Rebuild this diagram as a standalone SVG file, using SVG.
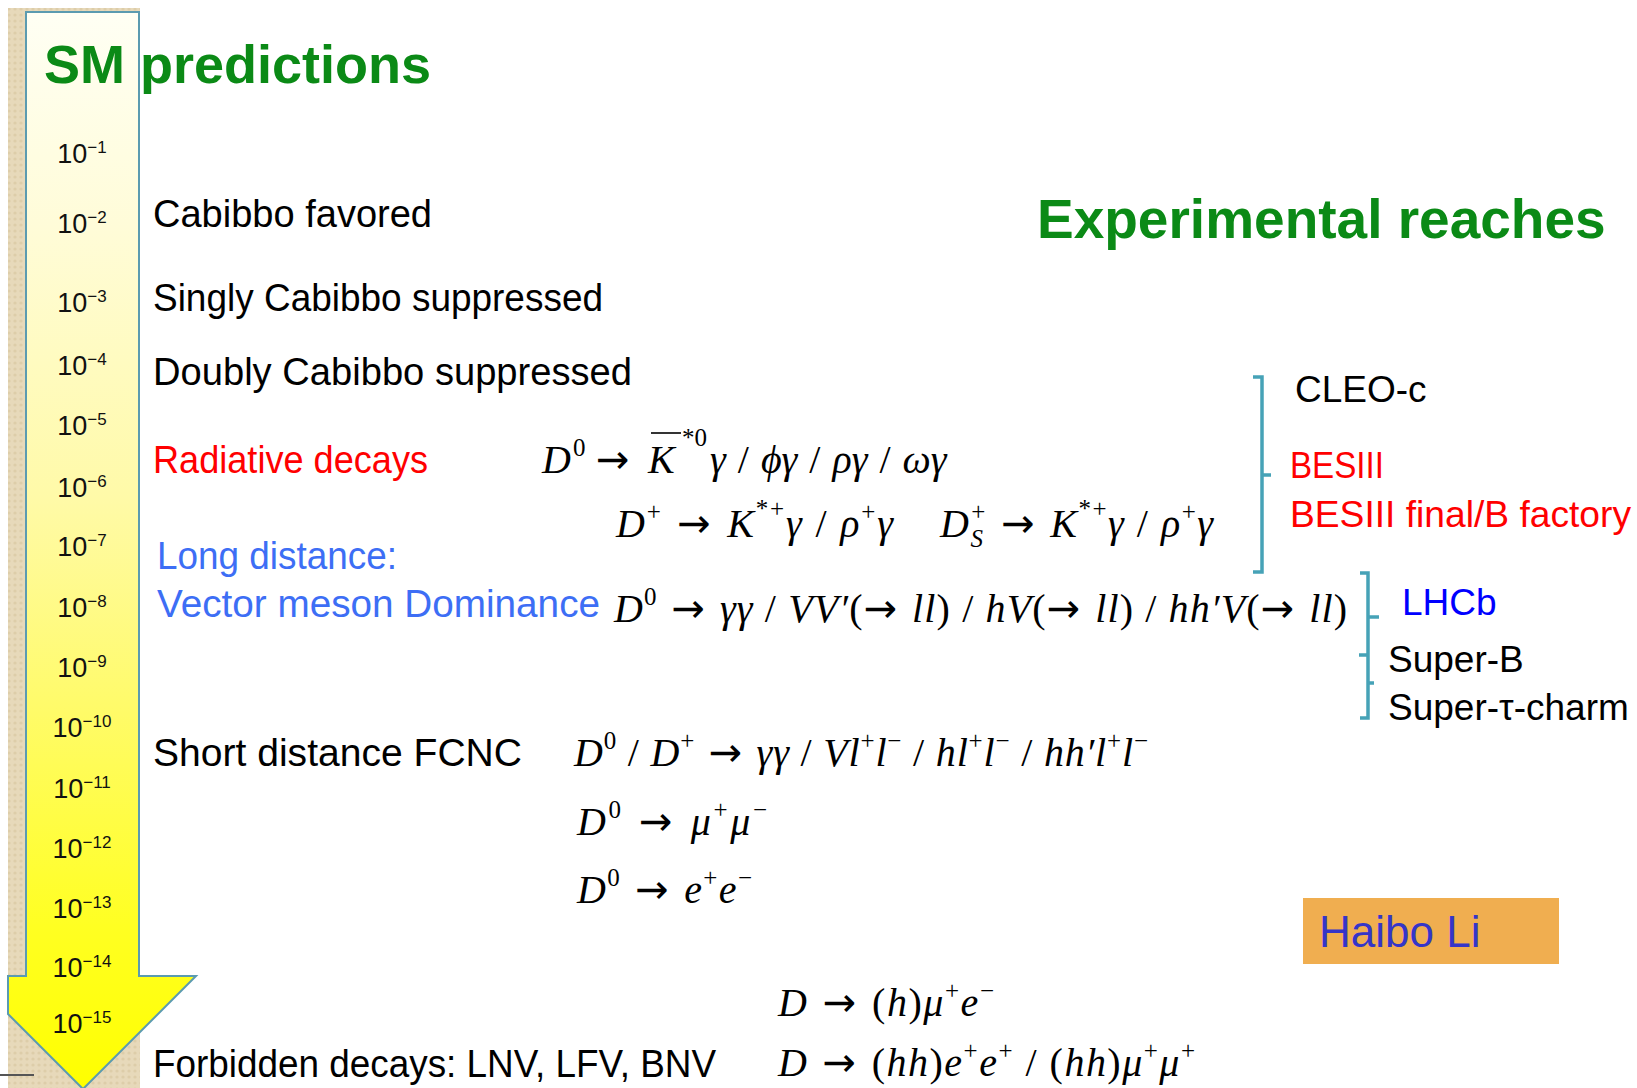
<svg xmlns="http://www.w3.org/2000/svg" width="1637" height="1088" viewBox="0 0 1637 1088">
<defs>
<linearGradient id="yel" x1="0" y1="12" x2="0" y2="1088" gradientUnits="userSpaceOnUse">
<stop offset="0" stop-color="#fffff4"/>
<stop offset="0.2" stop-color="#fffcd8"/>
<stop offset="0.45" stop-color="#fffaa8"/>
<stop offset="0.65" stop-color="#fffb68"/>
<stop offset="0.85" stop-color="#ffff22"/>
<stop offset="1" stop-color="#ffff00"/>
</linearGradient>
<pattern id="tex" width="6" height="6" patternUnits="userSpaceOnUse"><rect width="6" height="6" fill="#e7d9ba"/><circle cx="3" cy="3" r="1.6" fill="#ddcda9"/></pattern>
<style>
.sans{font-family:"Liberation Sans",Arial,sans-serif}
.lbl{font-size:38px;fill:#000}
.h{font-weight:bold;font-size:55px;fill:#0b8a16}
.red{fill:#ff0000}
.blu{fill:#3d6ef5}
.lhcb{fill:#0000ff}
.exp{font-size:37px}
.m{font-family:"Liberation Serif","Times New Roman",serif;font-style:italic;font-size:40px;fill:#000}
.u{font-style:normal}
.s{font-size:25px}
.ar{font-family:"DejaVu Sans",sans-serif;font-style:normal;font-size:40px}
.tk{font-size:27px;text-anchor:middle;fill:#111}
.tke{font-size:17px}
.br{fill:none;stroke:#46a2b7;stroke-width:3.5}
</style>
</defs>
<rect width="1637" height="1088" fill="#ffffff"/>
<g id="scale-arrow">
<rect x="8" y="8" width="132" height="1080" fill="url(#tex)"/>
<line x1="0" y1="1075" x2="34" y2="1075" stroke="#555" stroke-width="2"/>
<polygon points="26,12 139,12 139,976 196,976 83,1089 8,1014 8,976 26,976" fill="url(#yel)" stroke="#5b9bb0" stroke-width="2"/>
</g>
<g id="ticks" class="sans">
<text class="tk" x="82" y="163">10<tspan class="tke" dy="-10">−1</tspan></text>
<text class="tk" x="82" y="233">10<tspan class="tke" dy="-10">−2</tspan></text>
<text class="tk" x="82" y="312">10<tspan class="tke" dy="-10">−3</tspan></text>
<text class="tk" x="82" y="375">10<tspan class="tke" dy="-10">−4</tspan></text>
<text class="tk" x="82" y="435">10<tspan class="tke" dy="-10">−5</tspan></text>
<text class="tk" x="82" y="497">10<tspan class="tke" dy="-10">−6</tspan></text>
<text class="tk" x="82" y="556">10<tspan class="tke" dy="-10">−7</tspan></text>
<text class="tk" x="82" y="617">10<tspan class="tke" dy="-10">−8</tspan></text>
<text class="tk" x="82" y="677">10<tspan class="tke" dy="-10">−9</tspan></text>
<text class="tk" x="82" y="737">10<tspan class="tke" dy="-10">−10</tspan></text>
<text class="tk" x="82" y="798">10<tspan class="tke" dy="-10">−11</tspan></text>
<text class="tk" x="82" y="858">10<tspan class="tke" dy="-10">−12</tspan></text>
<text class="tk" x="82" y="918">10<tspan class="tke" dy="-10">−13</tspan></text>
<text class="tk" x="82" y="977">10<tspan class="tke" dy="-10">−14</tspan></text>
<text class="tk" x="82" y="1033">10<tspan class="tke" dy="-10">−15</tspan></text>
</g>
<g id="title-sm"><text class="sans h" x="44" y="83" font-size="54" style="font-size:54px">SM predictions</text></g>
<g id="title-exp"><text class="sans h" x="1037" y="238">Experimental reaches</text></g>
<g id="categories" class="sans lbl">
<text x="153" y="227" textLength="279" lengthAdjust="spacingAndGlyphs">Cabibbo favored</text>
<text x="153" y="311" textLength="450" lengthAdjust="spacingAndGlyphs">Singly Cabibbo suppressed</text>
<text x="153" y="385" textLength="479" lengthAdjust="spacingAndGlyphs">Doubly Cabibbo suppressed</text>
<text class="red" x="153" y="473" textLength="275" lengthAdjust="spacingAndGlyphs">Radiative decays</text>
<text class="blu" x="157" y="569" textLength="240" lengthAdjust="spacingAndGlyphs">Long distance:</text>
<text class="blu" x="157" y="617" textLength="443" lengthAdjust="spacingAndGlyphs">Vector meson Dominance</text>
<text x="153" y="766" textLength="369" lengthAdjust="spacingAndGlyphs">Short distance FCNC</text>
<text x="153" y="1077" textLength="563" lengthAdjust="spacingAndGlyphs">Forbidden decays: LNV, LFV, BNV</text>
</g>
<g id="formulas">
<text class="m"><tspan x="542" y="473">D</tspan><tspan class="u s" x="573" y="456">0</tspan><tspan class="ar" x="596" y="473">→</tspan><tspan x="648" y="473">K</tspan><tspan class="u s" x="682" y="446">*0</tspan><tspan x="710" y="473" word-spacing="2">γ <tspan class="u">/</tspan> ϕγ <tspan class="u">/</tspan> ργ <tspan class="u">/</tspan> ωγ</tspan></text>
<line x1="651" y1="433" x2="681" y2="433" stroke="#000" stroke-width="1.6"/>
<text class="m" x="616" y="537" textLength="277" lengthAdjust="spacing">D<tspan class="u s" dy="-17">+</tspan><tspan class="ar" dy="17"> → </tspan>K<tspan class="u s" dy="-20">*+</tspan><tspan dy="20">γ </tspan><tspan class="u">/</tspan> ρ<tspan class="u s" dy="-17">+</tspan><tspan dy="17">γ</tspan></text>
<text class="m" x="940" y="537" textLength="273" lengthAdjust="spacing">D<tspan class="s" dy="10">S</tspan><tspan class="u s" dx="-13" dy="-27">+</tspan><tspan class="ar" dy="17"> → </tspan>K<tspan class="u s" dy="-20">*+</tspan><tspan dy="20">γ </tspan><tspan class="u">/</tspan> ρ<tspan class="u s" dy="-17">+</tspan><tspan dy="17">γ</tspan></text>
<text class="m" x="614" y="622" textLength="733" lengthAdjust="spacing">D<tspan class="u s" dy="-17">0</tspan><tspan class="ar" dy="17"> → </tspan>γγ <tspan class="u">/</tspan> VV′<tspan class="u">(</tspan><tspan class="ar">→ </tspan>ll<tspan class="u">)</tspan> <tspan class="u">/</tspan> hV<tspan class="u">(</tspan><tspan class="ar">→ </tspan>ll<tspan class="u">)</tspan> <tspan class="u">/</tspan> hh′V<tspan class="u">(</tspan><tspan class="ar">→ </tspan>ll<tspan class="u">)</tspan></text>
<text class="m" x="574" y="766" textLength="574" lengthAdjust="spacing">D<tspan class="u s" dy="-17">0</tspan><tspan class="u" dy="17"> / </tspan>D<tspan class="u s" dy="-17">+</tspan><tspan class="ar" dy="17"> → </tspan>γγ <tspan class="u">/</tspan> Vl<tspan class="u s" dy="-17">+</tspan><tspan dy="17">l</tspan><tspan class="u s" dy="-17">−</tspan><tspan class="u" dy="17"> / </tspan>hl<tspan class="u s" dy="-17">+</tspan><tspan dy="17">l</tspan><tspan class="u s" dy="-17">−</tspan><tspan class="u" dy="17"> / </tspan>hh′l<tspan class="u s" dy="-17">+</tspan><tspan dy="17">l</tspan><tspan class="u s" dy="-17">−</tspan></text>
<text class="m" x="577" y="835" textLength="190" lengthAdjust="spacing">D<tspan class="u s" dy="-17">0</tspan><tspan class="ar" dy="17"> → </tspan>μ<tspan class="u s" dy="-17">+</tspan><tspan dy="17">μ</tspan><tspan class="u s" dy="-17">−</tspan></text>
<text class="m" x="577" y="903" textLength="175" lengthAdjust="spacing">D<tspan class="u s" dy="-17">0</tspan><tspan class="ar" dy="17"> → </tspan>e<tspan class="u s" dy="-17">+</tspan><tspan dy="17">e</tspan><tspan class="u s" dy="-17">−</tspan></text>
<text class="m" x="778" y="1016" textLength="216" lengthAdjust="spacing">D<tspan class="ar"> → </tspan><tspan class="u">(</tspan>h<tspan class="u">)</tspan>μ<tspan class="u s" dy="-17">+</tspan><tspan dy="17">e</tspan><tspan class="u s" dy="-17">−</tspan></text>
<text class="m" x="778" y="1076" textLength="417" lengthAdjust="spacing">D<tspan class="ar"> → </tspan><tspan class="u">(</tspan>hh<tspan class="u">)</tspan>e<tspan class="u s" dy="-17">+</tspan><tspan dy="17">e</tspan><tspan class="u s" dy="-17">+</tspan><tspan class="u" dy="17"> / (</tspan>hh<tspan class="u">)</tspan>μ<tspan class="u s" dy="-17">+</tspan><tspan dy="17">μ</tspan><tspan class="u s" dy="-17">+</tspan></text>
</g>
<g id="connectors">
<path class="br" d="M1253,377 H1262 V572 H1253 M1262,475 H1271"/>
<path class="br" d="M1360,573 H1368 V718 H1360 M1368,617 H1379 M1368,655 H1359 M1368,683 H1374"/>
</g>
<g id="experiments" class="sans exp">
<text x="1295" y="402">CLEO-c</text>
<text class="red" x="1290" y="478" textLength="94" lengthAdjust="spacingAndGlyphs">BESIII</text>
<text class="red" x="1290" y="527" textLength="341" lengthAdjust="spacingAndGlyphs">BESIII final/B factory</text>
<text class="lhcb" x="1402" y="615">LHCb</text>
<text x="1388" y="672">Super-B</text>
<text x="1388" y="720">Super-τ-charm</text>
</g>
<g id="author">
<rect x="1303" y="898" width="256" height="66" fill="#f0ae50"/>
<text class="sans" x="1319" y="947" font-size="44" fill="#3535c8">Haibo Li</text>
</g>
</svg>
